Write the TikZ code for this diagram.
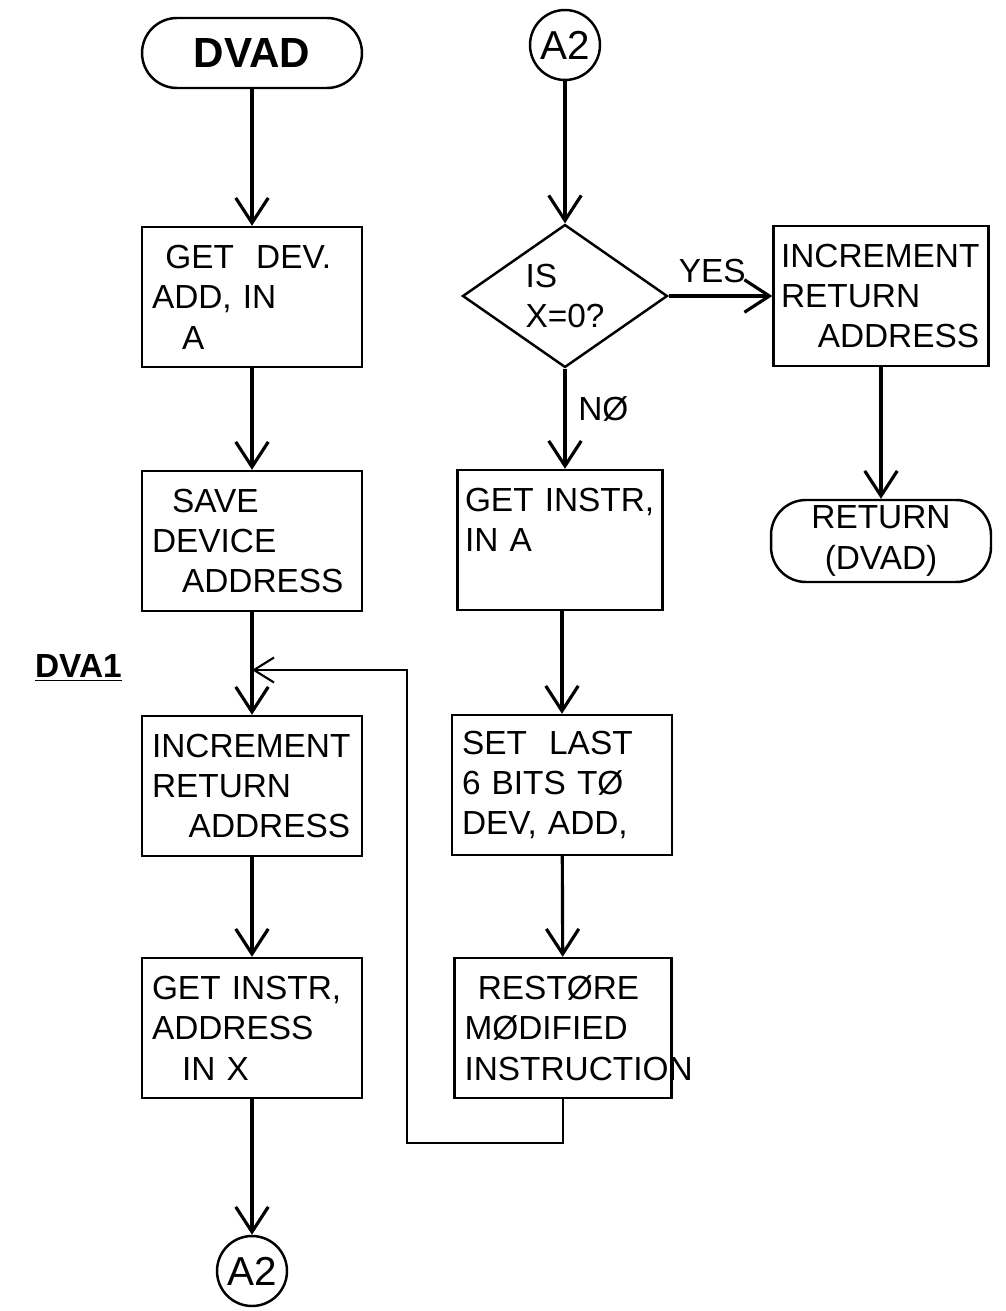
\documentclass[tikz,border=0pt]{standalone}
\usepackage{fontspec}
\setmainfont{Liberation Sans}
\usetikzlibrary{arrows.meta,shapes.geometric,positioning}

\begin{document}
\begin{tikzpicture}[
        x=0.02cm, y=-0.02cm,
        font=\fontsize{19}{23}\selectfont,
        box/.style={draw, line width=1.4pt, minimum width=4.4cm, minimum height=2.8cm, text width=4.0cm, inner xsep=2mm, align=left,
            execute at begin node={\hyphenpenalty=10000\exhyphenpenalty=10000}},
        term/.style={draw, line width=1.4pt, rounded corners=7mm, minimum width=4.4cm, minimum height=1.4cm, align=center},
        conn/.style={draw, circle, line width=1.4pt, minimum size=1.4cm, inner sep=0pt, font=\fontsize{23}{27}\selectfont},
        decide/.style={draw, diamond, line width=1.4pt, minimum width=4.1cm, minimum height=2.6cm, inner sep=0pt, align=left},
        flow/.style={line width=1.8pt, -{Straight Barb[length=5mm,width=6.5mm]}},
        back/.style={line width=1.2pt, -{Straight Barb[length=4mm,width=5mm]}},
        tag/.style={inner sep=1pt}
    ]
    \useasboundingbox (0,0) rectangle (1005,1311);

% --- Left column ---
        \node[term, font=\fontsize{24}{28}\selectfont\bfseries] (dvad) at (252,53) {DVAD};
        \node[box] (getdev) at (252,297) {\hspace*{0.4em}GET\ \ DEV.\\ADD, IN\\\hspace*{0.9em}A};
        \node[box] (savedev) at (252,541) {\hspace*{0.6em}SAVE\\DEVICE\\\hspace*{0.9em}ADDRESS};
        \node[box] (incr) at (252,786) {INCREMENT\\RETURN\\\hspace*{1.1em}ADDRESS};
        \node[box] (getaddr) at (252,1028) {GET INSTR,\\ADDRESS\\\hspace*{0.9em}IN X};
        \node[conn] (endA2) at (252,1271) {A2};
        \node[tag, anchor=west, font=\fontsize{19}{23}\selectfont\bfseries] (dva1) at (33,668) {\underline{DVA1}};

% --- Middle column ---
        \node[conn] (startA2) at (565,45) {A2};
        \node[decide] (isx) at (565,296) {IS\\X=0?};
        \node[box, minimum width=4.1cm, text width=3.8cm, inner xsep=1.5mm] (getinstr) at (560,540) {GET INSTR,\\IN A\\\mbox{}};
        \node[box] (setbits) at (562,785) {SET\ \ LAST\\6 BITS TØ\\DEV, ADD,};
        \node[box, minimum width=4.34cm, text width=3.94cm] (restore) at (563,1028) {\hspace*{0.4em}RESTØRE\\MØDIFIED\\INSTRUCTION};

% --- Right column ---
        \node[box, minimum width=4.3cm, text width=4.0cm, inner xsep=1.5mm] (incr2) at (881,296) {INCREMENT\\RETURN\\\hspace*{1.1em}ADDRESS};
        \node[term] (ret) at (881,541) {RETURN\\(DVAD)};

% --- Connectors ---
        \draw[flow] (dvad) -- (getdev);
        \draw[flow] (getdev) -- (savedev);
        \draw[flow] (savedev) -- (incr);
        \draw[flow] (incr) -- (getaddr);
        \draw[flow] (getaddr) -- (endA2);
        \draw[flow] (startA2) -- (isx);
        \draw[flow] (isx) -- node[tag, pos=0.4, right=2mm] (no) {NØ} (isx.south |- getinstr.north);
        \draw[flow] (isx) -- node[tag, pos=0.42, above=2mm] (yes) {YES} (incr2);
        \draw[flow] (getinstr.south -| setbits.north) -- (setbits);
        \draw[flow] (setbits) -- (restore);
        \draw[flow] (incr2) -- (ret);

% --- Loop back to DVA1 ---
        \coordinate (loopbot) at (407,1143);
        \coordinate (loopjoin) at (252,670);
        \draw[back] (restore.south) |- (loopbot) |- (loopjoin);

    \end{tikzpicture}
\end{document}
